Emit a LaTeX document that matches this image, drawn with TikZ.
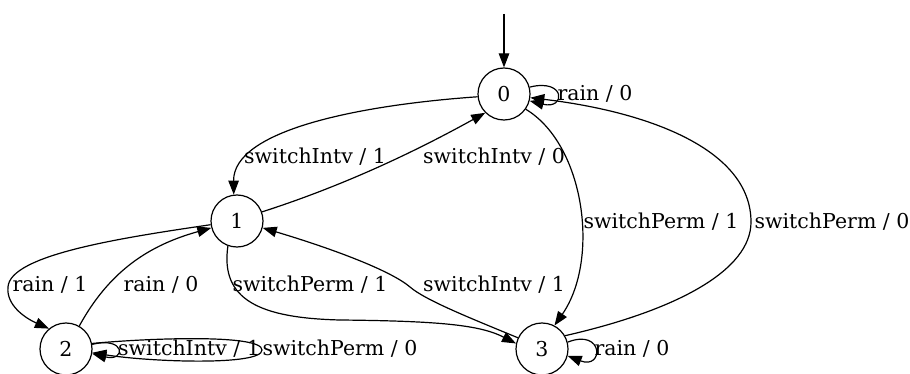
\documentclass[tikz,border=0pt]{standalone}
\usepackage{fontspec}
\setmainfont{DejaVu Serif}
\usetikzlibrary{arrows.meta}
\begin{document}
\begin{tikzpicture}[x=1pt,y=-1pt,
  txt/.style={font=\fontsize{20.5}{24}\selectfont},
  state/.style={circle, draw, line width=1.2pt, minimum size=52pt, inner sep=0pt, txt},
  lbl/.style={inner sep=0pt, txt},
  edge/.style={line width=1.2pt, -{Triangle[length=14pt,width=10.5pt]}}]
\useasboundingbox (0,0) rectangle (910,374);

% states
\node[state] (n0) at (504,94) {0};
\node[state] (n1) at (237,221) {1};
\node[state] (n2) at (66,349) {2};
\node[state] (n3) at (542,349) {3};
\coordinate (init) at (504,14);

% initial arrow
\draw[edge] (init) -- (n0);

% transitions of state 0
\draw[edge] (n0.15) .. controls (566,78) and (566,110) .. (n0.-15);
\node[lbl] (l00) at (595,94) {rain / 0};
\draw[edge] (n0.186) .. controls (360,105) and (233,130) .. (n1.97);
\node[lbl] (l01) at (315,157) {switchIntv / 1};
\draw[edge] (n0.-35) .. controls (585,145) and (600,260) .. (n3.62);
\node[lbl] (l03) at (661,222) {switchPerm / 1};

% transitions of state 1
\draw[edge] (n1.20) .. controls (330,190) and (400,160) .. (n0.225);
\node[lbl] (l10) at (494,157) {switchIntv / 0};
\coordinate (k12) at (8,287);
\draw[line width=1.2pt] (n1.188) .. controls (120,238) and (10,255) .. (k12);
\draw[edge] (k12) .. controls (6,305) and (25,318) .. (n2.130);
\node[lbl] (l12) at (50,285) {rain / 1};
\coordinate (k13) at (340,320);
\draw[line width=1.2pt] (n1.250) .. controls (220,300) and (260,318) .. (k13);
\draw[edge] (k13) .. controls (440,321) and (480,325) .. (n3.168);
\node[lbl] (l13) at (310,285) {switchPerm / 1};

% transitions of state 2
\draw[edge] (n2.60) .. controls (110,270) and (150,245) .. (n1.195);
\node[lbl] (l21) at (161,285) {rain / 0};
\draw[edge] (n2.10) .. controls (126,336) and (126,362) .. (n2.-10);
\node[lbl] (l22a) at (189,349) {switchIntv / 1};
\coordinate (k22) at (262,350);
\draw[line width=1.2pt] (n2.12) .. controls (150,338) and (262,334) .. (k22);
\draw[edge] (k22) .. controls (262,366) and (150,362) .. (n2.-8);
\node[lbl] (l22b) at (340,349) {switchPerm / 0};

% transitions of state 3
\coordinate (k31) at (410,287);
\draw[line width=1.2pt] (n3.155) .. controls (470,318) and (425,300) .. (k31);
\draw[edge] (k31) .. controls (390,270) and (330,248) .. (n1.-15);
\node[lbl] (l31) at (494,285) {switchIntv / 1};
\coordinate (k30) at (751,222);
\draw[line width=1.2pt] (n3.30) .. controls (678,310) and (751,270) .. (k30);
\draw[edge] (k30) .. controls (751,150) and (650,112) .. (n0.-8);
\node[lbl] (l30) at (832,222) {switchPerm / 0};
\draw[edge] (n3.15) .. controls (604,328) and (604,370) .. (n3.-15);
\node[lbl] (l33) at (632,349) {rain / 0};
\end{tikzpicture}
\end{document}
